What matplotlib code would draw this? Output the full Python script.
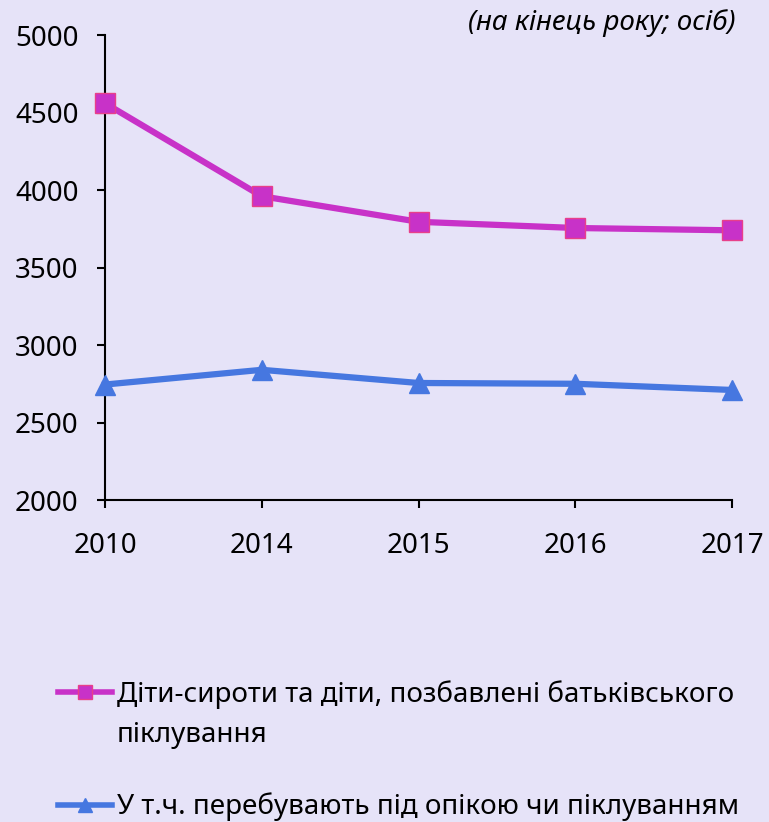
import matplotlib
matplotlib.use("Agg")
import matplotlib.pyplot as plt

plt.rcParams['font.family'] = ['Noto Sans', 'DejaVu Sans']

years = ["2010", "2014", "2015", "2016", "2017"]
orphans = [4560, 3960, 3795, 3755, 3740]
guardianship = [2745, 2840, 2755, 2750, 2710]
labels = ["Діти-сироти та діти, позбавлені батьківського",
          "У т.ч. перебувають під опікою чи піклуванням"]
label_cont = "піклування"

bg = "#E6E3F8"
fig = plt.figure(figsize=(7.69, 8.22), dpi=100, facecolor=bg)
ax = fig.add_axes([0.1365, 0.3917, 0.8155, 0.5657], facecolor=bg)

x = range(len(years))
ax.plot(x, orphans, color="#C832C8", lw=4.5, marker="s", markersize=14,
        markerfacecolor="#C832C8", markeredgecolor="#E8408A", markeredgewidth=1,
        label=labels[0], clip_on=False, zorder=3)
ax.plot(x, guardianship, color="#4677E0", lw=4.5, marker="^", markersize=15,
        markerfacecolor="#4677E0", markeredgecolor="#4677E0",
        label=labels[1], clip_on=False, zorder=3)

ax.set_xlim(0, len(years) - 1)
ax.set_ylim(2000, 5000)
ax.set_yticks(range(2000, 5001, 500))
ax.set_xticks(list(x))
ax.set_xticklabels(years)
for s in ["top", "right"]:
    ax.spines[s].set_visible(False)
for s in ["left", "bottom"]:
    ax.spines[s].set_linewidth(1.5)
ax.tick_params(axis="both", labelsize=20, width=1.5, length=6, direction="out")
ax.tick_params(axis="x", pad=17)
ax.tick_params(axis="y", pad=13)

fig.text(0.956, 0.972, "(на кінець року; осіб)", ha="right", va="center",
         fontsize=20, style="italic")

leg = fig.legend(loc="upper left", bbox_to_anchor=(0.0754, 0.173), frameon=False,
                 fontsize=20, handlelength=1.95, handletextpad=0.18,
                 labelspacing=3.03, borderaxespad=0, borderpad=0, markerscale=0.7)
for h in leg.legend_handles:
    h.set_linewidth(4)
# second line of the first legend label
fig.text(117 / 769, 1 - 735 / 822, label_cont, ha="left", va="center", fontsize=20)

fig.savefig("out.png", dpi=100, facecolor=bg)
